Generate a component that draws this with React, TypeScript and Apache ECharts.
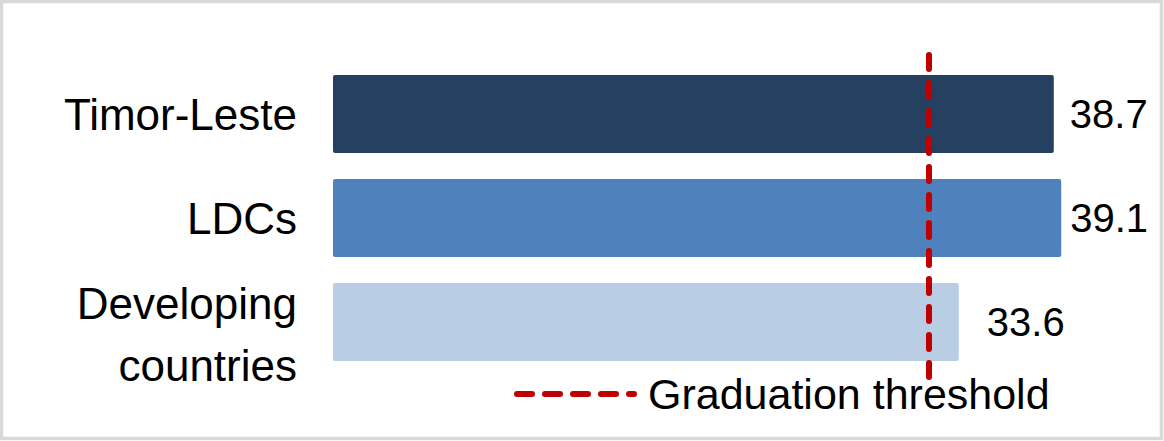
import React, { useEffect, useRef } from "react";
import * as echarts from "echarts";

const categories = ["Timor-Leste", "LDCs", "Developing\ncountries"];
const values = [38.7, 39.1, 33.6];
const barColors = ["#264061", "#4F81BD", "#B9CDE5"];
const labelDistances = [16, 9, 28];
const thresholdName = "Graduation threshold";
const thresholdValue = 32;

const FONT = "Liberation Sans";

// legend icon: four rounded dashes and a short end dash (123 x 6 box)
const dashSegs: [number, number][] = [
  [0, 21],
  [28, 49],
  [56, 77],
  [84, 105],
  [112, 123],
];
const legendIconPath =
  "path://" +
  dashSegs
    .map(
      ([a, b]) =>
        `M${a + 3} 0 L${b - 3} 0 A3 3 0 0 1 ${b - 3} 6 L${a + 3} 6 A3 3 0 0 1 ${a + 3} 0 Z`
    )
    .join(" ");

export default function App() {
  const ref = useRef<HTMLDivElement>(null);
  useEffect(() => {
    if (!ref.current) return;
    const chart = echarts.init(ref.current, undefined, { renderer: "svg" });
    const option: any = {
      animation: false,
      backgroundColor: "#ffffff",
      textStyle: { fontFamily: FONT, color: "#000" },
      graphic: [
        {
          type: "rect",
          shape: { x: 1.5, y: 1.5, width: 1160, height: 437 },
          style: { fill: "none", stroke: "#d9d9d9", lineWidth: 3.5 },
          z: 100,
          silent: true,
        },
      ],
      grid: [
        { left: 333, right: 86, top: 62, bottom: 67, containLabel: false },
        { left: 333, right: 86, top: 55, bottom: 59, containLabel: false },
      ],
      xAxis: [
        { type: "value", gridIndex: 0, min: 0, max: 40, show: false },
        { type: "value", gridIndex: 1, min: 0, max: 40, show: false },
      ],
      yAxis: [
        {
          type: "category",
          gridIndex: 0,
          data: categories,
          inverse: true,
          axisLine: { show: false },
          axisTick: { show: false },
          splitLine: { show: false },
          axisLabel: {
            fontFamily: FONT,
            fontSize: 44,
            color: "#000",
            margin: 36,
            lineHeight: 62,
            formatter: (v: string) =>
              v.indexOf("\n") >= 0 ? "{dc|" + v.split("\n").join("}\n{dc|") + "}" : v,
            rich: {
              dc: {
                fontFamily: FONT,
                fontSize: 44,
                color: "#000",
                lineHeight: 62,
                padding: [24, 0, 0, 0],
              },
            },
          },
        },
        { type: "value", gridIndex: 1, min: 0, max: 1, show: false },
      ],
      legend: {
        show: true,
        data: [{ name: thresholdName, icon: legendIconPath }],
        left: 514,
        top: 372,
        padding: 0,
        itemWidth: 123,
        itemHeight: 6,
        itemGap: 0,
        itemStyle: { color: "#C00000", borderWidth: 0 },
        textStyle: {
          fontFamily: FONT,
          fontSize: 43,
          color: "#000",
          lineHeight: 44,
          padding: [0, 0, 0, 6],
        },
      },
      series: [
        {
          type: "bar",
          xAxisIndex: 0,
          yAxisIndex: 0,
          barWidth: 78,
          data: values.map((v, i) => ({
            value: v,
            itemStyle: { color: barColors[i], borderRadius: 2 },
            label: { distance: labelDistances[i] },
          })),
          label: {
            show: true,
            position: "right",
            fontFamily: FONT,
            fontSize: 40,
            color: "#000",
            formatter: (p: any) => p.value.toFixed(1),
          },
          z: 2,
        },
        {
          type: "line",
          name: thresholdName,
          xAxisIndex: 1,
          yAxisIndex: 1,
          symbol: "none",
          data: [
            [thresholdValue, 1],
            [thresholdValue, 0],
          ],
          lineStyle: {
            color: "#C00000",
            width: 6,
            type: [14, 14],
            cap: "round",
          },
          itemStyle: { color: "#C00000" },
          z: 5,
        },
      ],
    };
    chart.setOption(option);
    return () => chart.dispose();
  }, []);
  return (
    <div
      ref={ref}
      style={{ position: "fixed", left: 0, top: 0, width: 1164, height: 441 }}
    />
  );
}
